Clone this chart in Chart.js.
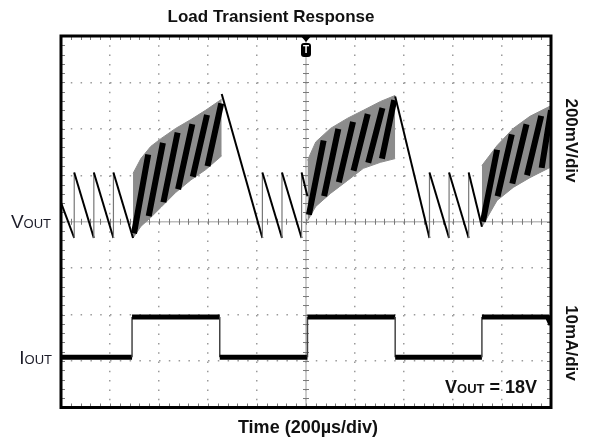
<!DOCTYPE html>
<html>
<head>
<meta charset="utf-8">
<script src="https://cdn.jsdelivr.net/npm/chart.js@4.4.0/dist/chart.umd.min.js"></script>
<style>
  html, body { margin: 0; padding: 0; background: #fff; }
</style>
</head>
<body>
<canvas id="scope" width="590" height="441"></canvas>
<script>
// ========== DATA (screen divisions: x 0..10, y 0..8) ==========
// sawtooth / recovery parts of V_OUT (null = break in the trace)
const sawX = [0, 0.27, 0.27, 0.67, 0.67, 1.07, 1.07, 1.47, 1.47, 3.28, 4.11, 4.11, 4.51, 4.51, 4.91, 4.91, 5.03, 5.03, 6.82, 7.52, 7.52, 7.92, 7.92, 8.32, 8.32, 8.59];
const sawY = [4.41, 3.65, 5.06, 3.65, 5.06, 3.65, 5.06, 3.65, null, 6.75, 3.65, 5.06, 3.65, 5.06, 3.65, 5.06, 4.55, null, 6.70, 3.65, 5.06, 3.65, 5.06, 3.65, 5.06, 3.89];

// switching bursts: upper / lower envelope
const burst1X = [1.47, 1.63, 1.83, 2.04, 2.34, 2.65, 2.95, 3.28];
const burst1Hi = [5.04, 5.36, 5.62, 5.79, 6.01, 6.20, 6.40, 6.64];
const burst1Lo = [3.65, 3.90, 4.09, 4.31, 4.63, 4.90, 5.12, 5.42];

const burst2X = [5.03, 5.20, 5.50, 5.85, 6.17, 6.52, 6.82];
const burst2Hi = [5.32, 5.72, 6.01, 6.23, 6.40, 6.59, 6.72];
const burst2Lo = [4.02, 4.33, 4.61, 4.89, 5.15, 5.28, 5.36];

const burst3X = [8.59, 8.90, 9.23, 9.57, 10.0];
const burst3Hi = [5.21, 5.64, 6.01, 6.27, 6.50];
const burst3Lo = [3.89, 4.46, 4.74, 4.95, 5.18];

// dark diagonal bands inside the bursts (start -> end)
const stripeX0 = [1.49, 1.79, 2.09, 2.39, 2.69, 2.99, 5.06, 5.37, 5.67, 5.97, 6.27, 6.55, 8.61, 8.91, 9.21, 9.51, 9.81];
const stripeY0 = [3.75, 4.12, 4.42, 4.70, 4.97, 5.20, 4.15, 4.55, 4.85, 5.10, 5.27, 5.36, 4.00, 4.55, 4.82, 5.00, 5.16];
const stripeX1 = [1.78, 2.08, 2.38, 2.68, 2.98, 3.27, 5.36, 5.66, 5.96, 6.26, 6.56, 6.80, 8.90, 9.20, 9.50, 9.80, 10.0];
const stripeY1 = [5.45, 5.70, 5.92, 6.10, 6.30, 6.55, 5.75, 6.00, 6.15, 6.32, 6.45, 6.62, 5.55, 5.88, 6.10, 6.28, 6.40];

// load current trace
const ioutX = [0, 1.45, 1.45, 3.24, 3.24, 5.03, 5.03, 6.82, 6.82, 8.59, 8.59, 9.93, 10.0];
const ioutY = [1.08, 1.08, 1.95, 1.95, 1.08, 1.08, 1.95, 1.95, 1.08, 1.08, 1.95, 1.95, 1.78];

const xDivs = 10, yDivs = 8;
const FONT = '"Liberation Sans", Arial, sans-serif';

// ========== HELPERS ==========
function pts(xs, ys) {
  return xs.map((x, i) => ({ x: x, y: ys[i] }));
}

function stripePts() {
  const out = [];
  stripeX0.forEach((x, i) => {
    out.push({ x: x, y: stripeY0[i] });
    out.push({ x: stripeX1[i], y: stripeY1[i] });
    out.push({ x: stripeX1[i], y: null });
  });
  return out;
}

const isVertical = c => Math.abs(c.p0.parsed.x - c.p1.parsed.x) < 1e-6;

function bandPair(xs, hi, lo) {
  return [
    { data: pts(xs, hi), borderColor: '#8c8c8c', borderWidth: 1, backgroundColor: '#8c8c8c', fill: '+1' },
    { data: pts(xs, lo), borderColor: '#8c8c8c', borderWidth: 1, fill: false }
  ];
}

function drawSubLabel(ctx, big, small, rest, xRight, base, weight, bigPx, smallPx) {
  const bf = weight + ' ' + bigPx + 'px ' + FONT;
  const sf = weight + ' ' + smallPx + 'px ' + FONT;
  ctx.font = bf; const w1 = ctx.measureText(big).width;
  const w3 = rest ? ctx.measureText(rest).width : 0;
  ctx.font = sf; const w2 = ctx.measureText(small).width;
  let x = xRight - (w1 + w2 + w3);
  ctx.textAlign = 'left';
  ctx.textBaseline = 'alphabetic';
  ctx.font = bf; ctx.fillText(big, x, base); x += w1;
  ctx.font = sf; ctx.fillText(small, x, base); x += w2;
  if (rest) { ctx.font = bf; ctx.fillText(rest, x, base); }
}

// ========== SCOPE DECORATION ==========
const scopeDecor = {
  id: 'scopeDecor',
  beforeDatasetsDraw(chart) {
    const { ctx, chartArea: a, scales: { x, y } } = chart;
    const cx = x.getPixelForValue(xDivs / 2);
    const cy = y.getPixelForValue(yDivs / 2);
    ctx.save();
    // centre cross
    ctx.strokeStyle = '#bdbdbd';
    ctx.lineWidth = 1.5;
    ctx.beginPath();
    ctx.moveTo(a.left, cy); ctx.lineTo(a.right, cy);
    ctx.moveTo(cx, a.top); ctx.lineTo(cx, a.bottom);
    ctx.stroke();
    // minor ticks on centre cross and frame
    ctx.strokeStyle = '#7a7a7a';
    ctx.lineWidth = 1;
    ctx.beginPath();
    for (let k = 1; k < xDivs * 5; k++) {
      const px = Math.round(x.getPixelForValue(k / 5)) + 0.5;
      ctx.moveTo(px, cy - 3); ctx.lineTo(px, cy + 3);
      ctx.moveTo(px, a.top); ctx.lineTo(px, a.top + 4);
      ctx.moveTo(px, a.bottom - 4); ctx.lineTo(px, a.bottom);
    }
    for (let k = 1; k < yDivs * 5; k++) {
      const py = Math.round(y.getPixelForValue(k / 5)) + 0.5;
      ctx.moveTo(cx - 3, py); ctx.lineTo(cx + 3, py);
      ctx.moveTo(a.left, py); ctx.lineTo(a.left + 4, py);
      ctx.moveTo(a.right - 4, py); ctx.lineTo(a.right, py);
    }
    ctx.stroke();
    ctx.restore();
  },
  afterDatasetsDraw(chart) {
    const { ctx, chartArea: a, scales: { x, y } } = chart;
    const cx = x.getPixelForValue(xDivs / 2);
    ctx.save();
    // frame
    ctx.strokeStyle = '#000';
    ctx.lineWidth = 3;
    ctx.strokeRect(a.left, a.top, a.right - a.left, a.bottom - a.top);
    // trigger marker
    ctx.fillStyle = '#000';
    ctx.beginPath();
    ctx.moveTo(cx - 6, a.top - 1);
    ctx.lineTo(cx + 6, a.top - 1);
    ctx.lineTo(cx, a.top + 6);
    ctx.closePath();
    ctx.fill();
    ctx.beginPath();
    ctx.roundRect(cx - 5, a.top + 7, 10, 14, 3);
    ctx.fill();
    ctx.fillStyle = '#fff';
    ctx.font = 'bold 10px ' + FONT;
    ctx.textAlign = 'center';
    ctx.textBaseline = 'middle';
    ctx.fillText('T', cx, a.top + 14.5);

    // texts
    ctx.fillStyle = '#111';
    ctx.font = 'bold 17px ' + FONT;
    ctx.fillText('Load Transient Response', 271, 17);
    ctx.font = 'bold 18px ' + FONT;
    ctx.fillText('Time (200\u00B5s/div)', 308, 428);

    ctx.font = 'bold 17px ' + FONT;
    ctx.save();
    ctx.translate(571, y.getPixelForValue(5.75));
    ctx.rotate(Math.PI / 2);
    ctx.fillText('200mV/div', 0, 0);
    ctx.restore();
    ctx.save();
    ctx.translate(571, y.getPixelForValue(1.39));
    ctx.rotate(Math.PI / 2);
    ctx.fillText('10mA/div', 0, 0);
    ctx.restore();

    ctx.fillStyle = '#1c1c28';
    drawSubLabel(ctx, 'V', 'OUT', '', a.left - 10, y.getPixelForValue(4) + 6, 'normal', 19, 13);
    drawSubLabel(ctx, 'I', 'OUT', '', a.left - 9, y.getPixelForValue(1.08) + 7, 'normal', 19, 13);
    ctx.fillStyle = '#111';
    drawSubLabel(ctx, 'V', 'OUT', ' = 18V', a.right - 14, 393, 'bold', 18, 13);
    ctx.restore();
  }
};

// ========== CHART ==========
const datasets = [
  {
    data: pts(ioutX, ioutY),
    borderColor: '#000',
    borderWidth: 5,
    segment: {
      borderWidth: c => isVertical(c) ? 1.5 : 5,
      borderColor: c => isVertical(c) ? '#444' : '#000'
    }
  },
  {
    data: pts(sawX, sawY),
    borderColor: '#000',
    borderWidth: 2,
    segment: {
      borderWidth: c => isVertical(c) ? 1.2 : 2,
      borderColor: c => isVertical(c) ? '#777' : '#000'
    }
  },
  { data: stripePts(), borderColor: '#000', borderWidth: 6 }
].concat(bandPair(burst1X, burst1Hi, burst1Lo), bandPair(burst2X, burst2Hi, burst2Lo), bandPair(burst3X, burst3Hi, burst3Lo));

datasets.forEach(d => {
  d.pointRadius = 0;
  d.tension = 0;
  d.spanGaps = false;
  if (d.fill === undefined) d.fill = false;
});

new Chart(document.getElementById('scope'), {
  type: 'line',
  data: { datasets: datasets },
  options: {
    responsive: false,
    animation: false,
    events: [],
    layout: { padding: { left: 61, right: 39, top: 36, bottom: 33.5 } },
    plugins: { legend: { display: false }, tooltip: { enabled: false }, title: { display: false } },
    scales: {
      x: {
        type: 'linear', min: 0, max: xDivs,
        ticks: { display: false, stepSize: 1 },
        grid: { drawTicks: false, color: '#9a9a9a', lineWidth: 1.5 },
        border: { display: false, dash: [1.5, 7.8] }
      },
      y: {
        type: 'linear', min: 0, max: yDivs,
        ticks: { display: false, stepSize: 1 },
        grid: { drawTicks: false, color: '#9a9a9a', lineWidth: 1.5 },
        border: { display: false, dash: [1.5, 8.3] }
      }
    }
  },
  plugins: [scopeDecor]
});
</script>
</body>
</html>
